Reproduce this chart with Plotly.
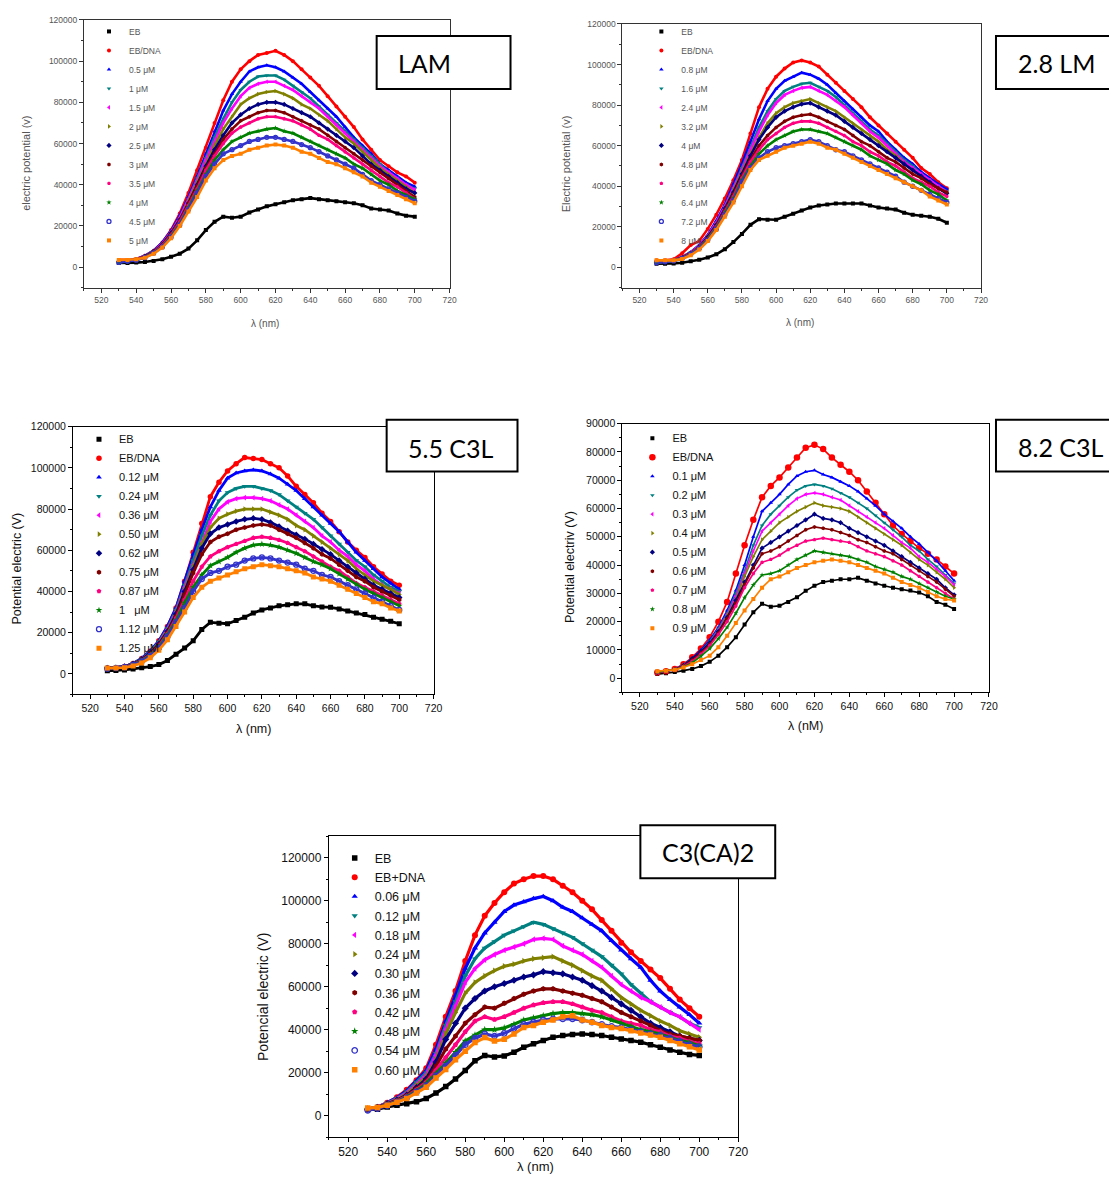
import plotly.graph_objects as go

# ---------------- data ----------------
WAVELENGTH = [530, 535, 540, 545, 550, 555, 560, 565, 570, 575,
              580, 585, 590, 595, 600, 605, 610, 615, 620, 625,
              630, 635, 640, 645, 650, 655, 660, 665, 670, 675,
              680, 685, 690, 695, 700]

# ---- panel 1: LAM ----
LAM_NAMES = ["EB", "EB/DNA", "0.5 μM", "1 μM", "1.5 μM", "2 μM", "2.5 μM",
             "3 μM", "3.5 μM", "4 μM", "4.5 μM", "5 μM"]
LAM_EB = [2000, 2000, 2200, 2500, 3000, 3800, 5000, 6500, 9000, 13000,
          18000, 22000, 24500, 24000, 24500, 26500, 28000, 29500, 30500, 31500,
          32500, 33000, 33500, 33000, 32500, 32000, 31500, 31000, 30000, 28500,
          28000, 27500, 26000, 25000, 24500]
LAM_DNA = [3500, 3500, 4000, 5500, 8000, 12000, 18000, 26000, 36000, 47000,
           58000, 70000, 81000, 90000, 96000, 100000, 103000, 104000, 105000, 103000,
           100000, 96000, 92000, 88000, 83000, 78000, 73000, 68000, 62000, 57000,
           52000, 49000, 46000, 44000, 41000]
LAM_C1 = [2500, 3000, 3800, 5500, 8000, 12000, 17500, 25000, 34000, 44000,
          55000, 66000, 76000, 84000, 90000, 95000, 97000, 98000, 97000, 95000,
          92000, 89000, 85000, 81000, 77000, 73000, 68000, 63000, 59000, 55000,
          50000, 47000, 44000, 41000, 39000]
LAM_C2 = [2500, 3000, 3800, 5300, 7800, 11500, 17000, 24000, 33000, 43000,
          53000, 63000, 72000, 80000, 86000, 90000, 92500, 93000, 93000, 91000,
          88000, 85000, 82000, 78000, 74000, 70000, 66000, 62000, 58000, 54000,
          50000, 46000, 43000, 40000, 38000]
LAM_C3 = [2500, 3000, 3800, 5300, 7700, 11500, 17000, 24000, 33000, 42000,
          52000, 61000, 70000, 77000, 83000, 87000, 89000, 90000, 90000, 88000,
          86000, 83000, 80000, 77000, 73000, 69000, 65000, 61000, 57000, 53000,
          49000, 46000, 43000, 40000, 37500]
LAM_C4 = [2500, 3000, 3700, 5200, 7500, 11000, 16500, 23000, 32000, 41000,
          50000, 59000, 67000, 73000, 79000, 82000, 84000, 85000, 85500, 84000,
          82000, 79000, 77000, 74000, 71000, 67000, 63000, 60000, 56000, 52000,
          48000, 45000, 42000, 39000, 36000]
LAM_C5 = [2500, 3000, 3700, 5200, 7500, 11000, 16500, 23000, 31000, 40000,
          49000, 57000, 64000, 70000, 74000, 77000, 79000, 80000, 80000, 79000,
          77000, 75000, 73000, 70000, 67000, 64000, 61000, 58000, 54000, 50000,
          47000, 44000, 41000, 38000, 36000]
LAM_C6 = [2500, 3000, 3700, 5000, 7300, 10800, 16000, 22500, 31000, 39000,
          48000, 55000, 62000, 67000, 71000, 73000, 75000, 76000, 76000, 75000,
          73000, 71000, 69000, 67000, 64000, 61000, 58000, 55000, 52000, 49000,
          46000, 43000, 40000, 37000, 34000]
LAM_C7 = [2500, 3000, 3700, 5000, 7200, 10500, 15500, 22000, 30000, 38000,
          47000, 54000, 60000, 65000, 68000, 70000, 72000, 73000, 73000, 72000,
          71000, 69000, 67000, 64000, 62000, 59000, 56000, 53000, 50000, 47000,
          44000, 41000, 39000, 36000, 33000]
LAM_C8 = [2300, 2800, 3500, 4800, 7000, 10000, 15000, 21000, 29000, 37000,
          45000, 52000, 57000, 61000, 63000, 65000, 66000, 67000, 67500, 66000,
          65000, 63000, 61000, 59000, 57000, 55000, 53000, 50000, 48000, 45000,
          42000, 40000, 37000, 35000, 33000]
LAM_C9 = [2300, 2800, 3400, 4600, 6800, 9800, 14500, 20500, 28000, 36000,
          44000, 50000, 55000, 57000, 59000, 61000, 62000, 63000, 63000, 62000,
          61000, 59500, 58000, 56000, 54000, 52000, 50000, 48000, 45000, 42000,
          40000, 38000, 36000, 34000, 32000]
LAM_C10 = [3500, 3500, 3800, 4500, 6500, 9500, 14000, 20000, 27000, 34000,
           42000, 48000, 52000, 54000, 55000, 57000, 58000, 59000, 59500, 59000,
           58000, 56000, 55000, 53000, 51000, 50000, 48000, 46000, 44000, 41000,
           39000, 37000, 35000, 33000, 31000]

# ---- panel 2: 2.8 LM ----
LM_NAMES = ["EB", "EB/DNA", "0.8 μM", "1.6 μM", "2.4 μM", "3.2 μM", "4 μM",
            "4.8 μM", "5.6 μM", "6.4 μM", "7.2 μM", "8 μM"]
LM_EB = [1800, 1800, 2000, 2300, 3000, 3800, 4900, 6500, 9000, 12500,
         16500, 21000, 23800, 23500, 23500, 25000, 26500, 28000, 29500, 30500,
         31000, 31500, 31500, 31500, 31500, 30500, 29500, 29000, 28500, 27000,
         26000, 25500, 25000, 24000, 22000]
LM_DNA = [3500, 3500, 4000, 7000, 11000, 13000, 19000, 26000, 34000, 43000,
          53000, 66000, 79000, 88000, 94000, 98000, 101000, 102000, 101000, 99000,
          95000, 91000, 87000, 83000, 79000, 74000, 70000, 66000, 62000, 58000,
          54000, 49000, 46000, 42000, 39000]
LM_C1 = [2500, 3000, 3500, 5000, 7500, 11000, 16000, 23000, 31000, 41000,
         51000, 62000, 73000, 82000, 88000, 92000, 94000, 96000, 95000, 93000,
         90000, 86000, 82000, 78000, 74000, 70000, 67000, 62000, 58000, 54000,
         51000, 47000, 44000, 41000, 38500]
LM_C2 = [2500, 3000, 3500, 5000, 7500, 10500, 15500, 22000, 30000, 39000,
         49000, 59000, 69000, 77000, 83000, 87000, 89000, 90500, 91000, 89000,
         87000, 84000, 80000, 76000, 72000, 68000, 65000, 61000, 57000, 53000,
         50000, 46000, 43000, 40000, 37500]
LM_C3 = [2500, 3000, 3500, 5000, 7300, 10500, 15500, 22000, 30000, 39000,
         48000, 58000, 67000, 75000, 81000, 85000, 87000, 88500, 89000, 87000,
         85000, 82000, 79000, 75000, 71000, 67000, 64000, 60000, 56000, 52000,
         49000, 46000, 43000, 40000, 37000]
LM_C4 = [2500, 3000, 3500, 4800, 7000, 10000, 15000, 21000, 29000, 38000,
         47000, 56000, 64000, 71000, 76000, 79000, 81000, 82000, 83000, 81000,
         79000, 77000, 74000, 71000, 68000, 65000, 62000, 58000, 55000, 51000,
         48000, 45000, 42000, 39000, 36500]
LM_C5 = [2500, 3000, 3500, 4800, 7000, 10000, 15000, 21000, 29000, 37000,
         46000, 55000, 63000, 69000, 74000, 77000, 79000, 80500, 81000, 79000,
         77000, 75000, 72000, 69000, 66000, 63000, 60000, 57000, 54000, 51000,
         48000, 45000, 42000, 39000, 36500]
LM_C6 = [2500, 3000, 3500, 4800, 7000, 10000, 14500, 20500, 28000, 36000,
         45000, 53000, 60000, 65000, 69000, 72000, 74000, 75000, 75500, 74000,
         72000, 70000, 68000, 65000, 62000, 60000, 57000, 54000, 52000, 49000,
         46000, 44000, 41000, 39000, 37000]
LM_C7 = [2500, 3000, 3400, 4600, 6800, 9800, 14000, 20000, 27500, 35000,
         44000, 52000, 58000, 63000, 66000, 69000, 71000, 72000, 72000, 71000,
         69000, 67000, 65000, 62000, 60000, 57000, 55000, 52000, 50000, 47000,
         44000, 42000, 40000, 37000, 35000]
LM_C8 = [2300, 2800, 3300, 4500, 6600, 9500, 14000, 19500, 27000, 34000,
         43000, 50000, 56000, 60000, 63000, 65000, 67000, 68000, 68000, 67000,
         66000, 64000, 62000, 60000, 58000, 55000, 53000, 51000, 48000, 46000,
         43000, 41000, 38000, 36000, 33000]
LM_C9 = [2300, 2800, 3200, 4400, 6500, 9300, 13500, 19000, 26000, 33000,
         42000, 49000, 54000, 57000, 59000, 60000, 61000, 62000, 63000, 62000,
         60000, 58000, 57000, 55000, 53000, 51000, 49000, 47000, 45000, 42000,
         40000, 38000, 36000, 34000, 32000]
LM_C10 = [3500, 3500, 3500, 4200, 6000, 8800, 13000, 18500, 25000, 32000,
          40000, 48000, 53000, 55000, 57000, 59000, 60000, 61000, 62000, 61000,
          59000, 58000, 56000, 54000, 52000, 50000, 48000, 46000, 44000, 42000,
          40000, 38000, 35000, 33000, 31000]

# ---- panel 3: 5.5 C3L ----
C55_NAMES = ["EB", "EB/DNA", "0.12 μM", "0.24 μM", "0.36 μM", "0.50 μM", "0.62 μM",
             "0.75 μM", "0.87 μM", "1\u00a0\u00a0\u00a0μM", "1.12 μM", "1.25 μM"]
C55_EB = [1500, 1600, 1900, 2400, 3000, 3500, 4500, 6500, 9500, 12500,
          16000, 21500, 25000, 24500, 24300, 25900, 27500, 29500, 31000, 32000,
          33000, 33500, 34000, 34000, 33000, 32500, 32300, 31500, 30500, 29500,
          28800, 27500, 26500, 25500, 24300]
C55_DNA = [2800, 3000, 3500, 5000, 7500, 11000, 16000, 23000, 32000, 45000,
           59000, 73000, 86000, 93000, 98500, 102000, 105000, 104500, 104000, 102000,
           100000, 96000, 91000, 87000, 83000, 78000, 74000, 69000, 64000, 60000,
           56500, 52000, 48500, 45000, 43000]
C55_C1 = [2800, 3000, 3500, 5000, 7500, 11000, 16000, 23000, 32000, 45000,
          58000, 70000, 81000, 89000, 95000, 97500, 98500, 99000, 98500, 97000,
          95000, 92000, 89000, 85000, 81000, 77000, 73000, 69000, 64000, 59000,
          55000, 51000, 47000, 44000, 41000]
C55_C2 = [2800, 3000, 3500, 5000, 7300, 10500, 15500, 22000, 31000, 43000,
          55000, 67000, 77000, 84000, 88000, 90000, 91000, 91000, 90000, 89000,
          87000, 84000, 81000, 78000, 75000, 71000, 67000, 63000, 59000, 55000,
          52000, 48000, 45000, 42000, 40000]
C55_C3 = [2800, 3000, 3500, 4800, 7000, 10000, 15000, 21500, 30000, 42000,
          53000, 64000, 74000, 80000, 83500, 85000, 85500, 85500, 85000, 84000,
          82000, 80000, 77000, 74000, 71000, 67000, 64000, 60000, 57000, 53000,
          50000, 46000, 43000, 41000, 39000]
C55_C4 = [2800, 3000, 3500, 4800, 7000, 10000, 15000, 21000, 29500, 41000,
          52000, 63000, 71000, 75500, 77500, 79000, 80000, 80000, 80000, 78500,
          77000, 75000, 72000, 70000, 67000, 64000, 61000, 58000, 55000, 51000,
          48000, 45000, 43000, 41000, 38500]
C55_C5 = [2800, 3000, 3500, 4800, 7000, 10000, 14500, 20500, 29000, 40000,
          50500, 61000, 68000, 71000, 72500, 74000, 75000, 75500, 75000, 73500,
          71500, 69500, 67500, 65500, 63000, 60500, 58000, 55000, 52000, 49000,
          46000, 43000, 41000, 39000, 37000]
C55_C6 = [2500, 2800, 3300, 4600, 6700, 9700, 14000, 20000, 28000, 38500,
          49000, 58000, 64000, 66500, 68000, 70000, 71000, 72000, 72500, 72000,
          70000, 68000, 66000, 63500, 61000, 58000, 56000, 53000, 50000, 47000,
          45000, 42000, 40000, 38000, 36000]
C55_C7 = [2500, 2800, 3300, 4500, 6500, 9300, 13500, 19500, 27000, 36000,
          45000, 52000, 57000, 59500, 61500, 63000, 64500, 66000, 66500, 66000,
          65000, 63500, 61500, 59500, 57000, 54500, 52000, 50000, 47000, 44000,
          42000, 40000, 38000, 36000, 34000]
C55_C8 = [2500, 2800, 3200, 4400, 6300, 9000, 13000, 19000, 26000, 34500,
          42000, 48000, 52500, 54500, 56500, 59000, 61000, 62500, 63000, 62500,
          61500, 60000, 58500, 56500, 54500, 53000, 51000, 48500, 46000, 43500,
          41000, 39000, 37000, 35000, 33000]
C55_C9 = [2500, 2800, 3200, 4300, 6000, 8600, 12500, 18000, 25000, 32000,
          40000, 46000, 49000, 50000, 52000, 53000, 55000, 56000, 56500, 56000,
          55000, 54000, 53000, 51000, 50000, 48000, 47000, 45000, 43000, 41000,
          39000, 37000, 35000, 33000, 31000]
C55_C10 = [2800, 2800, 3000, 3800, 5300, 7800, 11500, 16500, 23000, 30000,
           37000, 42000, 45000, 46500, 48000, 49500, 51000, 52000, 53000, 52500,
           52000, 51000, 50000, 49000, 47000, 46000, 45000, 43000, 41000, 39000,
           37000, 35000, 34000, 32000, 30500]

# ---- panel 4: 8.2 C3L ----
C82_NAMES = ["EB", "EB/DNA", "0.1 μM", "0.2 μM", "0.3 μM", "0.4 μM", "0.5 μM",
             "0.6 μM", "0.7 μM", "0.8 μM", "0.9 μM"]
C82_EB = [1500, 1800, 2200, 2700, 3300, 4300, 5800, 8000, 11000, 14500,
          19000, 23300, 26300, 25300, 25600, 27000, 28600, 30900, 32700, 34000,
          34500, 35000, 35000, 35500, 34500, 33500, 32700, 32000, 31500, 31000,
          30300, 29000, 27000, 26000, 24500]
C82_DNA = [2000, 2500, 3300, 5000, 7400, 10500, 14500, 20000, 27000, 37000,
           47000, 56000, 64000, 68000, 71000, 74500, 78000, 81500, 82500, 81000,
           78000, 75500, 73000, 70000, 66000, 62000, 58000, 54000, 51000, 48500,
           46000, 44000, 42000, 39500, 37000]
C82_C1 = [2000, 2500, 3300, 4800, 7000, 10000, 13500, 18000, 24000, 31000,
          40000, 50000, 59000, 62000, 65000, 68500, 71500, 73000, 73500, 72000,
          71000, 69500, 68000, 66000, 63500, 61000, 58000, 55500, 53000, 50000,
          47500, 44500, 41500, 38000, 34500]
C82_C2 = [2000, 2500, 3300, 4700, 6800, 9500, 13000, 17500, 23000, 30000,
          38000, 47000, 54000, 58000, 61000, 64000, 66500, 68000, 68500, 68000,
          67000, 65500, 64000, 62000, 60000, 57500, 55000, 52500, 50000, 47000,
          45000, 42000, 39500, 36500, 33500]
C82_C3 = [2000, 2500, 3300, 4600, 6600, 9300, 12500, 17000, 22500, 29000,
          37000, 45000, 52000, 55000, 58000, 61000, 63500, 65000, 65500, 65000,
          64000, 63000, 61000, 59000, 57000, 55000, 53000, 50500, 48000, 46000,
          43000, 41000, 38500, 36000, 33000]
C82_C4 = [2000, 2500, 3200, 4500, 6500, 9000, 12000, 16500, 22000, 28000,
          36000, 43000, 49000, 52000, 55000, 57000, 59000, 60500, 62000, 61000,
          60500, 60000, 59000, 57000, 55000, 53000, 51000, 49000, 47000, 44500,
          42000, 40000, 37500, 35000, 32000]
C82_C5 = [2000, 2500, 3200, 4500, 7000, 9500, 12500, 16500, 21500, 27500,
          34000, 40000, 46000, 48000, 50000, 52000, 54000, 56000, 58000, 56500,
          56000, 55000, 53000, 51500, 50000, 48500, 47000, 45000, 43000, 41000,
          39000, 37000, 35000, 32000, 29500]
C82_C6 = [2000, 2500, 3200, 4400, 6500, 9000, 12000, 16000, 21000, 26500,
          33000, 39000, 44000, 45000, 46500, 48500, 50500, 52500, 53500, 53000,
          52500, 51500, 50500, 49000, 48000, 46500, 45000, 44000, 42000, 40000,
          38000, 36000, 34000, 31500, 29000]
C82_C7 = [2000, 2400, 3000, 4200, 6000, 8500, 11500, 15500, 20000, 25500,
          32000, 37000, 41000, 42000, 43500, 45500, 47000, 48500, 49000, 49500,
          49000, 48500, 48000, 46500, 45000, 44000, 43000, 41500, 40000, 38000,
          36000, 34000, 32000, 30000, 28000]
C82_C8 = [2200, 2600, 3000, 4000, 5500, 7800, 10500, 14000, 18000, 23000,
          28500, 33000, 36500, 37000, 38000, 40000, 42000, 43500, 45000, 44500,
          44000, 43500, 43000, 42000, 41000, 39500, 38500, 37500, 36000, 35000,
          33500, 32000, 30500, 29000, 28000]
C82_C9 = [2500, 2700, 3000, 3800, 5000, 6500, 8000, 11000, 15000, 19500,
          24000, 28000, 32000, 35000, 36000, 37500, 39000, 40000, 41000, 41500,
          42000, 41500, 41000, 40000, 39000, 38000, 37000, 35500, 34000, 33000,
          32000, 30500, 29000, 28000, 27500]

# ---- panel 5: C3(CA)2 ----
CA_NAMES = ["EB", "EB+DNA", "0.06 μM", "0.12 μM", "0.18 μM", "0.24 μM", "0.30 μM",
            "0.36 μM", "0.42 μM", "0.48 μM", "0.54 μM", "0.60 μM"]
CA_EB = [2800, 3000, 4000, 4800, 5500, 6500, 8000, 10500, 13500, 17000,
         21000, 25500, 28000, 27300, 27800, 29500, 31800, 33500, 35000, 36500,
         37300, 37800, 38000, 37800, 37300, 36500, 35700, 35000, 34200, 33000,
         31800, 30500, 29500, 28500, 28000]
CA_DNA = [3000, 4000, 6000, 8500, 12000, 16500, 22000, 33000, 46000, 58000,
          72000, 84000, 93000, 99000, 104000, 108000, 110000, 111500, 111500, 110000,
          107000, 104000, 100000, 96000, 91000, 86000, 80500, 76000, 72000, 68000,
          64000, 59000, 54000, 50000, 46000]
CA_C1 = [3000, 3800, 6000, 8300, 11500, 16000, 21000, 31000, 44000, 56000,
         68500, 78000, 85000, 90000, 95000, 98000, 99500, 101000, 102000, 100000,
         97000, 95000, 92000, 89000, 86000, 81500, 77000, 73000, 69000, 63000,
         58000, 54000, 50500, 47000, 43000]
CA_C2 = [3000, 3800, 5800, 8000, 11000, 15500, 20000, 29000, 42000, 53000,
         65000, 73000, 78000, 81000, 84000, 86000, 88000, 90000, 89000, 87000,
         85000, 83000, 80000, 77000, 74000, 70000, 66000, 61000, 57000, 53000,
         50500, 48000, 46000, 43000, 41000]
CA_C3 = [3000, 3800, 5600, 7800, 10500, 14500, 19000, 28000, 40000, 51000,
         62000, 68500, 72500, 75000, 77000, 78500, 80000, 82000, 82500, 82000,
         79000, 77000, 75000, 72000, 69000, 65000, 61000, 58000, 55000, 53000,
         50500, 48000, 46000, 43000, 40000]
CA_C4 = [3000, 3800, 5500, 7500, 10000, 14000, 18000, 26000, 38000, 48000,
         57000, 62000, 65000, 67500, 69500, 70500, 72000, 73000, 73500, 74000,
         72000, 70000, 67500, 65000, 63000, 59000, 55000, 52000, 49000, 46500,
         44000, 42000, 39500, 38000, 36500]
CA_C5 = [3000, 3800, 5400, 7200, 9500, 13000, 17000, 25000, 35500, 43000,
         50000, 54500, 58000, 60000, 61500, 63000, 64500, 65500, 67000, 66500,
         66000, 64500, 63000, 60500, 58000, 55000, 52000, 49000, 46000, 43000,
         41000, 39000, 37000, 36000, 35000]
CA_C6 = [3000, 3700, 5300, 7000, 9200, 12500, 16000, 23000, 31000, 37000,
         43000, 47000, 50500, 50000, 52300, 54500, 56500, 58000, 59000, 59000,
         58000, 57000, 56000, 54500, 53000, 50500, 48000, 46000, 44000, 42000,
         39500, 38000, 37000, 36000, 35000]
CA_C7 = [3000, 3700, 5200, 6800, 9000, 12000, 15500, 21000, 27000, 33000,
         39000, 44000, 46000, 44700, 46000, 48000, 50000, 51500, 52500, 53000,
         53000, 52000, 50500, 49000, 48000, 46000, 44000, 43000, 42000, 40000,
         39000, 37000, 36000, 34500, 33500]
CA_C8 = [3000, 3600, 5000, 6600, 8700, 11500, 15000, 19500, 24500, 29500,
         34700, 37500, 40000, 40000, 40800, 42500, 44500, 45500, 46500, 47500,
         48000, 48000, 47500, 47000, 46000, 44500, 43000, 41500, 40000, 39000,
         38000, 36500, 35000, 34000, 32500]
CA_C9 = [2500, 3300, 4700, 6300, 8300, 11000, 14000, 18500, 23000, 28000,
         33000, 36000, 38000, 37000, 38300, 40500, 42500, 43500, 44500, 45000,
         45000, 45000, 44500, 43500, 42500, 41500, 41000, 40000, 39000, 38000,
         37300, 36000, 34500, 33000, 32000]
CA_C10 = [3500, 3800, 4800, 6200, 8000, 10500, 13200, 17500, 21500, 26000,
          30000, 34000, 36300, 34700, 35500, 38000, 41000, 42000, 43500, 44500,
          46000, 46500, 44500, 43500, 42000, 41000, 40500, 39500, 38500, 37500,
          36500, 35000, 33500, 32000, 30500]

X_TICKS = [520, 540, 560, 580, 600, 620, 640, 660, 680, 700, 720]

# ---------------- styles ----------------
COLORS = ["#000000", "#FF0000", "#0000FF", "#008080", "#FF00FF", "#808000",
          "#000080", "#800000", "#FF0080", "#008000", "#3333CC", "#FF8000"]
SYMBOLS = ["square", "circle", "triangle-up", "triangle-down", "triangle-left",
           "triangle-right", "diamond", "hexagon", "pentagon", "star",
           "circle-open", "square"]

W, H = 1117, 1183
OFF = 8                      # default body margin of the html page
FW, FH = W - 2 * OFF, H - 2 * OFF
# small empirical correction between the intended page pixel and the photographed one
SX, TX = 0.992, -1.0
SY, TY = 0.9956, 5.1


def px(x):
    return ((x - TX) / SX - OFF) / FW


def py(y):
    return 1 - ((y - TY) / SY - OFF) / FH


FONT = "Liberation Sans, Arial, sans-serif"

PANELS = [
    dict(series=[LAM_EB, LAM_DNA, LAM_C1, LAM_C2, LAM_C3, LAM_C4, LAM_C5, LAM_C6,
                 LAM_C7, LAM_C8, LAM_C9, LAM_C10],
         names=LAM_NAMES, styles=list(range(12)),
         frame=(83, 449, 19, 287), yrange=[-10000, 120000], ydtick=20000,
         ytitle="electric potential (v)", ytitle_pos=(25, 163), ytitle_size=11,
         xtitle="λ (nm)", xtitle_pos=(264, 323), xtitle_size=10,
         tick_size=8.5, text_color="#555555", line_color="#333333",
         legend_pos=(88, 16), legend_size=8.5,
         msize=4, msize_dna=4, lwidth=2.6,
         box=(376, 35, 510, 88), label="LAM", label_x=395, label_y=62),
    dict(series=[LM_EB, LM_DNA, LM_C1, LM_C2, LM_C3, LM_C4, LM_C5, LM_C6,
                 LM_C7, LM_C8, LM_C9, LM_C10],
         names=LM_NAMES, styles=list(range(12)),
         frame=(622, 981, 23, 287), yrange=[-10000, 120000], ydtick=20000,
         ytitle="Electric potential (v)", ytitle_pos=(565, 163), ytitle_size=11,
         xtitle="λ (nm)", xtitle_pos=(800, 322), xtitle_size=10,
         tick_size=8.5, text_color="#555555", line_color="#333333",
         legend_pos=(641, 16), legend_size=8.5,
         msize=4, msize_dna=4, lwidth=2.6,
         box=(996, 35, 1130, 88), label="2.8 LM", label_x=1016, label_y=62),
    dict(series=[C55_EB, C55_DNA, C55_C1, C55_C2, C55_C3, C55_C4, C55_C5, C55_C6,
                 C55_C7, C55_C8, C55_C9, C55_C10],
         names=C55_NAMES, styles=list(range(12)),
         frame=(72, 433, 426, 694), yrange=[-10000, 120000], ydtick=20000,
         ytitle="Potential electric (V)", ytitle_pos=(15, 568), ytitle_size=12.5,
         xtitle="λ (nm)", xtitle_pos=(253, 729), xtitle_size=12.5,
         tick_size=10.5, text_color="#111111", line_color="#000000",
         legend_pos=(78, 424), legend_size=11,
         msize=5, msize_dna=5.5, lwidth=2.8,
         box=(386, 419, 517, 471), label="5.5 C3L", label_x=405, label_y=447),
    dict(series=[C82_EB, C82_DNA, C82_C1, C82_C2, C82_C3, C82_C4, C82_C5, C82_C6,
                 C82_C7, C82_C8, C82_C9],
         names=C82_NAMES, styles=[0, 1, 2, 3, 4, 5, 6, 7, 8, 9, 11],
         frame=(622, 989, 423, 692), yrange=[-5000, 90000], ydtick=10000,
         ytitle="Potential electriv (V)", ytitle_pos=(569, 566), ytitle_size=12.5,
         xtitle="λ (nM)", xtitle_pos=(805, 726), xtitle_size=12.5,
         tick_size=10.5, text_color="#111111", line_color="#000000",
         legend_pos=(632, 423), legend_size=11,
         msize=4, msize_dna=6.5, lwidth=1.7,
         box=(996, 419, 1130, 471), label="8.2 C3L", label_x=1016, label_y=446),
    dict(series=[CA_EB, CA_DNA, CA_C1, CA_C2, CA_C3, CA_C4, CA_C5, CA_C6,
                 CA_C7, CA_C8, CA_C9, CA_C10],
         names=CA_NAMES, styles=list(range(12)),
         frame=(328, 738, 836, 1137), yrange=[-10000, 130000], ydtick=20000,
         ytitle="Potencial electric (V)", ytitle_pos=(262, 997), ytitle_size=14,
         xtitle="λ (nm)", xtitle_pos=(535, None), xtitle_size=13,
         tick_size=12, text_color="#111111", line_color="#000000",
         legend_pos=(334, 843), legend_size=12.5,
         msize=5.5, msize_dna=6, lwidth=3.2,
         box=(640, 825, 775, 878), label="C3(CA)2", label_x=660, label_y=852),
]

for p in PANELS:
    for s in p["series"]:
        assert len(s) == len(WAVELENGTH), (p["label"], len(s))

fig = go.Figure()
layout = dict(
    width=FW, height=FH, margin=dict(l=0, r=0, t=0, b=0),
    paper_bgcolor="white", plot_bgcolor="white",
    font=dict(family=FONT), showlegend=True,
)
annotations = []
shapes = []

for i, p in enumerate(PANELS, start=1):
    xa = "x" if i == 1 else f"x{i}"
    ya = "y" if i == 1 else f"y{i}"
    leg = "legend" if i == 1 else f"legend{i}"
    for k, (s, name, st) in enumerate(zip(p["series"], p["names"], p["styles"])):
        grp = f"p{i}_{name}"
        fig.add_trace(go.Scatter(
            x=WAVELENGTH, y=s, mode="lines", xaxis=xa, yaxis=ya,
            line=dict(color=COLORS[st], width=p["lwidth"]),
            showlegend=False, legendgroup=grp, legend=leg, hoverinfo="skip"))
        size = p["msize_dna"] if k == 1 else p["msize"]
        mk = dict(color=COLORS[st], size=size, symbol=SYMBOLS[st])
        if SYMBOLS[st].endswith("open"):
            mk["line"] = dict(color=COLORS[st], width=1.3)
        else:
            mk["line"] = dict(width=0)
        fig.add_trace(go.Scatter(
            x=WAVELENGTH, y=s, mode="markers", name=name, xaxis=xa, yaxis=ya,
            marker=mk, legendgroup=grp, legend=leg))

    x0, x1, y0, y1 = p["frame"]
    tf = dict(family=FONT, size=p["tick_size"], color=p["text_color"])
    layout["xaxis" if i == 1 else f"xaxis{i}"] = dict(
        domain=[px(x0), px(x1)], anchor=ya, range=[510, 720],
        tickvals=X_TICKS, ticks="outside", ticklen=4, tickwidth=1,
        tickcolor=p["line_color"], showline=True, linecolor=p["line_color"],
        linewidth=1, mirror=True, showgrid=False, zeroline=False,
        minor=dict(ticks="outside", ticklen=2, dtick=10, tick0=510,
                   tickcolor=p["line_color"]),
        tickfont=tf, fixedrange=True)
    layout["yaxis" if i == 1 else f"yaxis{i}"] = dict(
        domain=[py(y1), py(y0)], anchor=xa, range=p["yrange"],
        tick0=0, dtick=p["ydtick"], tickformat="d", ticks="outside", ticklen=4,
        tickwidth=1, tickcolor=p["line_color"], showline=True,
        linecolor=p["line_color"], linewidth=1, mirror=True, showgrid=False,
        zeroline=False,
        minor=dict(ticks="outside", ticklen=2, dtick=p["ydtick"] / 2,
                   tickcolor=p["line_color"]),
        tickfont=tf, fixedrange=True)

    lx, ly = p["legend_pos"]
    layout[leg] = dict(
        x=px(lx), y=py(ly), xanchor="left", yanchor="top",
        bgcolor="rgba(0,0,0,0)", borderwidth=0,
        font=dict(family=FONT, size=p["legend_size"], color=p["text_color"]),
        itemwidth=30, tracegroupgap=0)

    # axis titles
    tx, ty = p["ytitle_pos"]
    annotations.append(dict(
        x=px(tx), y=py(ty), xref="paper", yref="paper", text=p["ytitle"],
        textangle=-90, showarrow=False, xanchor="center", yanchor="middle",
        font=dict(family=FONT, size=p["ytitle_size"], color=p["text_color"])))
    tx, ty = p["xtitle_pos"]
    if ty is None:
        # title sits on the bottom edge of the page
        annotations.append(dict(
            x=px(tx), y=0, xref="paper", yref="paper", text=p["xtitle"],
            showarrow=False, xanchor="center", yanchor="bottom", yshift=-1,
            font=dict(family=FONT, size=p["xtitle_size"], color=p["text_color"])))
    else:
        annotations.append(dict(
            x=px(tx), y=py(ty), xref="paper", yref="paper", text=p["xtitle"],
            showarrow=False, xanchor="center", yanchor="middle",
            font=dict(family=FONT, size=p["xtitle_size"], color=p["text_color"])))

    # label box
    bx0, by0, bx1, by1 = p["box"]
    shapes.append(dict(
        type="rect", xref="paper", yref="paper",
        x0=px(bx0), x1=px(bx1), y0=py(by1), y1=py(by0),
        line=dict(color="black", width=2), fillcolor="white", layer="above"))
    annotations.append(dict(
        x=px(p["label_x"]), y=py(p["label_y"]), xref="paper", yref="paper",
        text=p["label"], showarrow=False, xanchor="left", yanchor="middle",
        font=dict(family="Lato, Carlito, sans-serif", size=25, color="black")))

layout["annotations"] = annotations
layout["shapes"] = shapes
fig.update_layout(**layout)

fig.write_html("out.html")
